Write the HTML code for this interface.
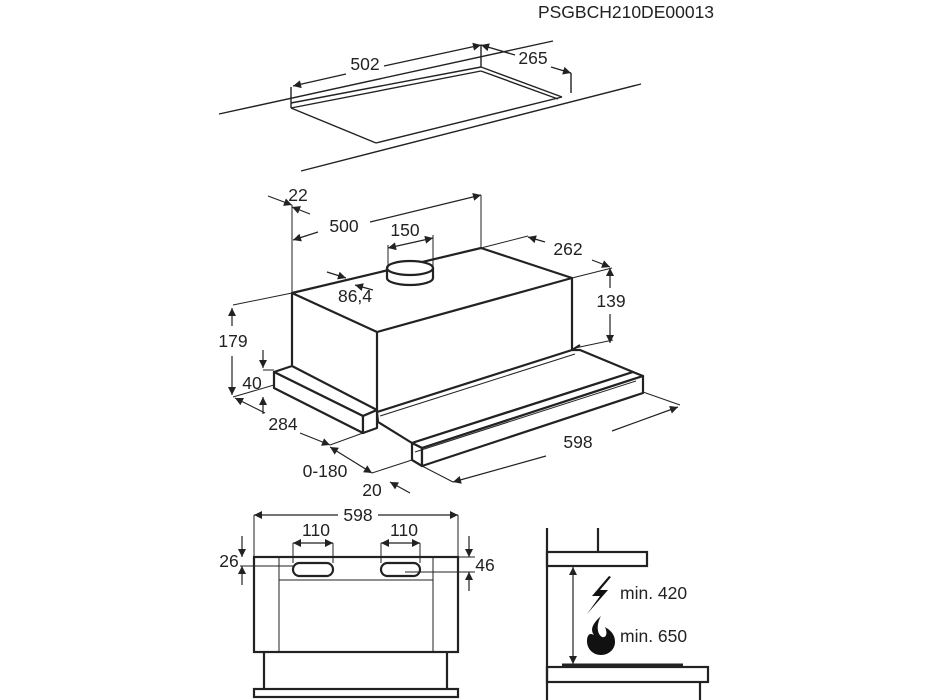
<!DOCTYPE html>
<html><head><meta charset="utf-8"><style>
html,body{margin:0;padding:0;background:#fff}
svg{display:block}
text{font-family:"Liberation Sans",sans-serif;font-size:17.5px;fill:#222}
.c{text-anchor:middle}
</style></head><body>
<svg width="933" height="700" viewBox="0 0 933 700" xmlns="http://www.w3.org/2000/svg">
<defs>
<marker id="a" viewBox="0 0 10 10" refX="10" refY="5" markerWidth="11" markerHeight="8" markerUnits="userSpaceOnUse" orient="auto-start-reverse"><path d="M0,0 L10,5 L0,10 z" fill="#222"/></marker>
</defs>
<text class="c" x="626" y="18">PSGBCH210DE00013</text>

<g stroke="#222" fill="none" stroke-width="1.4">
<line x1="219" y1="114" x2="553" y2="41"/>
<line x1="301" y1="171" x2="641" y2="84"/>
<line x1="291" y1="87" x2="291" y2="108"/>
<line x1="481" y1="45" x2="481" y2="67"/>
<line x1="571" y1="73" x2="571" y2="93"/>
<line x1="291" y1="103" x2="481" y2="67"/>
<line x1="291" y1="108" x2="481" y2="71"/>
<line x1="481" y1="67" x2="562" y2="97"/>
<line x1="481" y1="71" x2="558" y2="99"/>
<line x1="291" y1="108" x2="376" y2="143"/>
<line x1="376" y1="143" x2="562" y2="97"/>
<line x1="293" y1="86" x2="346" y2="74" marker-start="url(#a)"/>
<line x1="384" y1="66" x2="481" y2="45" marker-end="url(#a)"/>
<line x1="481" y1="45" x2="515" y2="55" marker-start="url(#a)"/>
<line x1="551" y1="67" x2="571" y2="73" marker-end="url(#a)"/>
</g>
<text class="c" x="365" y="70">502</text>
<text class="c" x="533" y="64">265</text>

<g stroke="#222" fill="none" stroke-width="2.2" stroke-linejoin="round">
<polygon points="292,293 481,248 572,278 377,332" fill="#fff"/>
<line x1="292" y1="293" x2="292" y2="365"/>
<line x1="377" y1="332" x2="377" y2="410"/>
<line x1="572" y1="278" x2="572" y2="350"/>
<path d="M387,268 v10 a23,7 0 0 0 46,0 v-10" fill="#fff"/>
<ellipse cx="410" cy="268" rx="23" ry="7" fill="#fff"/>
<polygon points="274,372 292,366 377,410 363,416" fill="#fff"/>
<polygon points="274,372 363,416 363,433 274,388" fill="#fff"/>
<polygon points="363,416 377,410 377,428 363,433" fill="#fff"/>
<polygon points="377,412 572,350 580,350 633,372 412,443 378,422" fill="#fff"/>
<line x1="572" y1="350" x2="580" y2="345"/>
<polygon points="412,443 633,372 643,376 422,448" fill="#fff"/>
<polygon points="412,443 422,448 422,466 412,460" fill="#fff"/>
<polygon points="422,448 643,376 643,393 422,466" fill="#fff"/>
</g>
<g stroke="#222" fill="none" stroke-width="1">
<line x1="380" y1="416" x2="575" y2="354"/>
<line x1="415" y1="452" x2="636" y2="381"/>
<line x1="292" y1="205" x2="292" y2="293"/>
<line x1="481" y1="195" x2="481" y2="248"/>
<line x1="388" y1="245" x2="388" y2="268"/>
<line x1="433" y1="235" x2="433" y2="268"/>
<line x1="233" y1="305" x2="292" y2="293"/>
<line x1="233" y1="397" x2="274" y2="385"/>
<line x1="572" y1="278" x2="612" y2="268"/>
<line x1="575" y1="348" x2="613" y2="340"/>
<line x1="481" y1="248" x2="528" y2="236"/>
<line x1="263" y1="370" x2="274" y2="370"/>
<line x1="643" y1="392" x2="680" y2="405"/>
<line x1="363" y1="433" x2="330" y2="445"/>
<line x1="412" y1="460" x2="372" y2="473"/>
<line x1="422" y1="466" x2="453" y2="482"/>
</g>
<g stroke="#222" fill="none" stroke-width="1.2">
<line x1="268" y1="196" x2="292" y2="205" marker-end="url(#a)"/>
<line x1="310" y1="214" x2="292" y2="207" marker-end="url(#a)"/>
<line x1="318" y1="232" x2="293" y2="240" marker-end="url(#a)"/>
<line x1="370" y1="222" x2="481" y2="195" marker-end="url(#a)"/>
<line x1="388" y1="248" x2="433" y2="238" marker-start="url(#a)" marker-end="url(#a)"/>
<line x1="327" y1="272" x2="346" y2="278" marker-end="url(#a)"/>
<line x1="373" y1="290" x2="355" y2="285" marker-end="url(#a)"/>
<line x1="528" y1="237" x2="545" y2="242" marker-start="url(#a)"/>
<line x1="592" y1="260" x2="610" y2="267" marker-end="url(#a)"/>
<line x1="610" y1="268" x2="610" y2="288" marker-start="url(#a)"/>
<line x1="610" y1="314" x2="610" y2="343" marker-end="url(#a)"/>
<line x1="232" y1="308" x2="232" y2="326" marker-start="url(#a)"/>
<line x1="232" y1="356" x2="232" y2="395" marker-end="url(#a)"/>
<line x1="263" y1="350" x2="263" y2="368" marker-end="url(#a)"/>
<line x1="263" y1="414" x2="263" y2="397" marker-end="url(#a)"/>
<line x1="235" y1="398" x2="265" y2="413" marker-start="url(#a)"/>
<line x1="300" y1="433" x2="330" y2="445" marker-end="url(#a)"/>
<line x1="330" y1="447" x2="372" y2="473" marker-start="url(#a)" marker-end="url(#a)"/>
<line x1="410" y1="493" x2="390" y2="482" marker-end="url(#a)"/>
<line x1="453" y1="482" x2="546" y2="456" marker-start="url(#a)"/>
<line x1="612" y1="431" x2="678" y2="407" marker-end="url(#a)"/>
</g>
<text class="c" x="298" y="201">22</text>
<text class="c" x="344" y="232">500</text>
<text class="c" x="405" y="236">150</text>
<text class="c" x="355" y="302">86,4</text>
<text class="c" x="568" y="255">262</text>
<text class="c" x="611" y="307">139</text>
<text class="c" x="233" y="347">179</text>
<text class="c" x="252" y="389">40</text>
<text class="c" x="283" y="430">284</text>
<text class="c" x="325" y="477">0-180</text>
<text class="c" x="372" y="496">20</text>
<text class="c" x="578" y="448">598</text>

<g stroke="#222" fill="none" stroke-width="2.2">
<rect x="254" y="557" width="204" height="95"/>
<line x1="264" y1="652" x2="264" y2="690"/>
<line x1="447" y1="652" x2="447" y2="690"/>
<rect x="254" y="689" width="204" height="8"/>
<rect x="293" y="563" width="40" height="13" rx="6.5"/>
<rect x="381" y="563" width="39" height="13" rx="6.5"/>
</g>
<g stroke="#222" fill="none" stroke-width="1">
<line x1="279" y1="557" x2="279" y2="652"/>
<line x1="433" y1="557" x2="433" y2="652"/>
<line x1="279" y1="580" x2="433" y2="580"/>
<line x1="254" y1="515" x2="254" y2="557"/>
<line x1="458" y1="515" x2="458" y2="557"/>
<line x1="293" y1="543" x2="293" y2="563"/>
<line x1="333" y1="543" x2="333" y2="563"/>
<line x1="381" y1="543" x2="381" y2="563"/>
<line x1="420" y1="543" x2="420" y2="563"/>
<line x1="240" y1="566" x2="293" y2="566"/>
<line x1="458" y1="557" x2="475" y2="557"/>
<line x1="405" y1="572" x2="475" y2="572"/>
</g>
<g stroke="#222" fill="none" stroke-width="1.2">
<line x1="254" y1="515" x2="338" y2="515" marker-start="url(#a)"/>
<line x1="378" y1="515" x2="458" y2="515" marker-end="url(#a)"/>
<line x1="293" y1="543" x2="313" y2="543" marker-start="url(#a)"/>
<line x1="313" y1="543" x2="333" y2="543" marker-end="url(#a)"/>
<line x1="381" y1="543" x2="401" y2="543" marker-start="url(#a)"/>
<line x1="401" y1="543" x2="420" y2="543" marker-end="url(#a)"/>
<line x1="242" y1="536" x2="242" y2="557" marker-end="url(#a)"/>
<line x1="242" y1="585" x2="242" y2="566" marker-end="url(#a)"/>
<line x1="469" y1="536" x2="469" y2="557" marker-end="url(#a)"/>
<line x1="469" y1="591" x2="469" y2="572" marker-end="url(#a)"/>
</g>
<text class="c" x="358" y="521">598</text>
<text class="c" x="316" y="536">110</text>
<text class="c" x="404" y="536">110</text>
<text class="c" x="229" y="567">26</text>
<text class="c" x="485" y="571">46</text>

<g stroke="#222" fill="none" stroke-width="2.2">
<line x1="547" y1="528" x2="547" y2="700"/>
<line x1="598" y1="528" x2="598" y2="553"/>
<rect x="547" y="552" width="100" height="14"/>
<rect x="547" y="667" width="161" height="15"/>
<line x1="700" y1="682" x2="700" y2="700"/>
<line x1="562" y1="665" x2="683" y2="665" stroke-width="3"/>
</g>
<line x1="573" y1="567" x2="573" y2="664" stroke="#222" stroke-width="1.2" marker-start="url(#a)" marker-end="url(#a)"/>
<path d="M609,576 L592,596 L600,596 L587,614 L608,590 L600,590 L611,577 z" fill="#111"/>
<path d="M601,616 C592,624 590,630 594,635 C589,632 587,636 587,641 C587,649 593,655 601,655 C609,655 615,649 615,642 C615,634 610,630 605,627 C608,634 606,638 602,637 C597,634 596,625 601,616 z" fill="#111"/>
<text x="620" y="599">min. 420</text>
<text x="620" y="642">min. 650</text>
</svg>
</body></html>
